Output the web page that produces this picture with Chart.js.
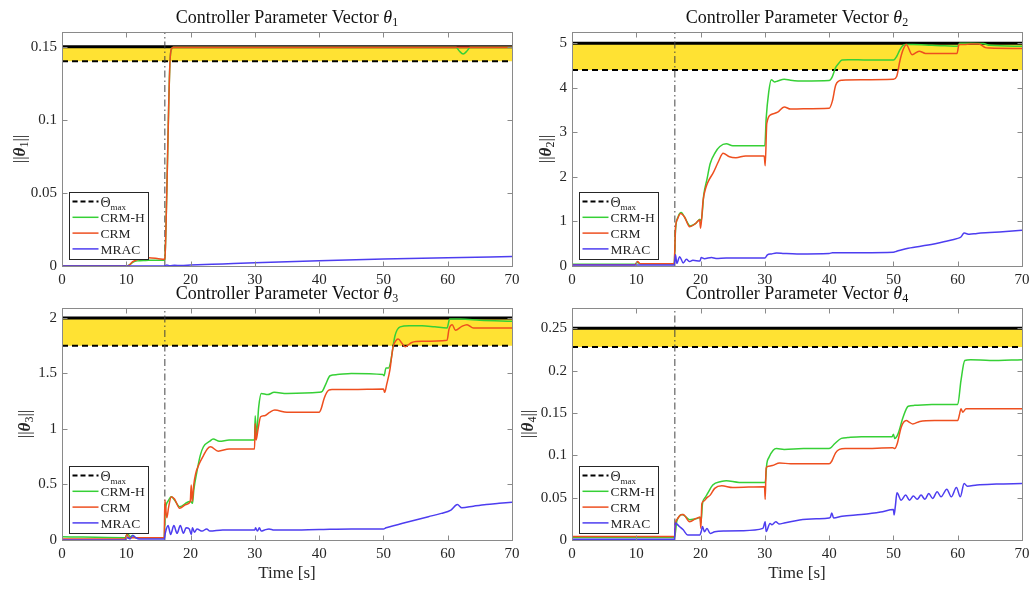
<!DOCTYPE html>
<html><head><meta charset="utf-8">
<script src="https://cdn.jsdelivr.net/npm/chart.js@4.4.1/dist/chart.umd.min.js"></script>
<style>
html,body{margin:0;padding:0;background:#fff;}
#wrap{position:relative;width:1035px;height:589px;overflow:hidden;background:#fff;}
canvas{position:absolute;left:0;top:0;}
</style></head><body><div id="wrap">
<canvas id="c1" width="1035" height="589"></canvas>
<canvas id="c2" width="1035" height="589"></canvas>
<canvas id="c3" width="1035" height="589"></canvas>
<canvas id="c4" width="1035" height="589"></canvas>
</div>
<script>
// ---------- data ----------
const xTicks = [0,10,20,30,40,50,60,70];
const switchTime = 16;
const thetaMax = [0.15, 5, 2, 0.25];
const thetaLow = [0.14, 4.4, 1.75, 0.228];
const yMax = [0.16, 5.25, 2.09, 0.274];
const yTicks1 = [0,0.05,0.1,0.15], yLabels1 = ['0','0.05','0.1','0.15'];
const yTicks2 = [0,1,2,3,4,5], yLabels2 = ['0','1','2','3','4','5'];
const yTicks3 = [0,0.5,1,1.5,2], yLabels3 = ['0','0.5','1','1.5','2'];
const yTicks4 = [0,0.05,0.1,0.15,0.2,0.25], yLabels4 = ['0','0.05','0.1','0.15','0.2','0.25'];

// Panel 1
const p1_t_crmh = [0,10,10.5,11,11.7,13,14.5,15.9,16.0,16.3,16.6,16.8,17,17.3,30,50,61.3,61.8,62.4,63,63.5,70];
const p1_crmh   = [0,0,0.0008,0.0025,0.0035,0.0038,0.004,0.004,0.005,0.05,0.11,0.14,0.148,0.1495,0.1495,0.1495,0.1495,0.147,0.145,0.147,0.1495,0.1495];
const p1_t_crm  = [0,10,10.4,11,12,13.5,15,15.9,16.0,16.3,16.6,16.8,17,17.3,70];
const p1_crm    = [0,0,0.0005,0.003,0.0048,0.0056,0.005,0.0046,0.005,0.05,0.11,0.14,0.148,0.1495,0.1495];
const p1_t_mrac = [0,15.9,16.3,16.8,17.5,18.5,20,25,30,40,50,60,70];
const p1_mrac   = [0,0,0.0006,0.0002,0.0005,0.0003,0.0006,0.0014,0.0022,0.0036,0.0048,0.0056,0.0065];

// Panel 2
const p2_t_crmh = [0,9.8,10.2,10.6,11, 15.9,16.1,16.5,17,17.5, 18.4,19.2,19.9,20.1,20.5, 21,21.5,22.3,23,24, 25,26,30,30.2,30.6, 31,31.5,32,33,34, 36,40,40.5,41,41.5, 42,43,46,50,50.5, 51,51.5,52,53,55, 56,58,60,60.3,61, 62,64,65,70];
const p2_crmh   = [0.04,0.04,0.08,0.05,0.05, 0.05,0.8,1.1,1.2,1.1, 0.9,0.95,1.05,1.0,1.6, 1.95,2.3,2.55,2.68,2.74, 2.7,2.7,2.7,3.3,3.9, 4.18,4.13,4.15,4.19,4.17, 4.15,4.16,4.25,4.45,4.55, 4.62,4.63,4.62,4.62,4.7, 4.85,4.95,4.97,4.97,4.96, 4.95,4.94,4.93,5.0,5.0, 5.0,4.99,4.95,4.93];
const p2_t_crm  = [0,9.8,10.2,10.6,11, 15.9,16.1,16.4,16.9,17.5, 18.3,19.2,19.85,20.0,20.4, 20.8,21.2,22,22.8,23.5, 24.5,25.5,27,29.9,30.05, 30.3,31,32,33,34, 36,40,40.5,41,41.5, 42,45,50,50.5,51, 51.5,52,52.9,54,55, 56,58,59.9,60.2,61, 62,63.3,64.3,65,70];
const p2_crm    = [0.03,0.03,0.1,0.05,0.05, 0.05,0.85,1.05,1.18,1.1, 0.88,0.95,1.03,0.85,1.48, 1.75,1.9,2.1,2.35,2.53, 2.45,2.43,2.47,2.47,2.25, 3.2,3.4,3.45,3.57,3.52, 3.53,3.54,3.7,4.05,4.15, 4.17,4.18,4.19,4.25,4.6, 4.85,4.97,4.74,4.82,4.77, 4.77,4.77,4.77,4.97,4.97, 4.98,4.98,4.9,4.89,4.88];
const p2_t_mrac = [0,15.9,16.1,16.3,16.75, 17.3,17.8,18.3,18.8,19.9, 20.1,20.6,21.7,22.4,24, 30,30.4,31,31.8,33, 35,40,40.5,45,50, 50.5,52.3,55.4,58,60, 60.5,61,61.8,63,65, 68,70];
const p2_mrac   = [0.02,0.02,0.25,0.06,0.21, 0.07,0.15,0.1,0.13,0.11, 0.19,0.165,0.19,0.17,0.18, 0.18,0.25,0.27,0.29,0.28, 0.27,0.28,0.3,0.3,0.31, 0.33,0.4,0.47,0.55,0.62, 0.65,0.74,0.71,0.73,0.75, 0.78,0.8];

// Panel 3
const p3_t_crmh = [0,9.8,10.2,10.6,11, 11.5,15.9,16.05,16.5,17, 17.5,18.3,19.5,20,20.3, 20.5,21,21.5,22,23, 23.5,24.5,26,29.95,30.05, 30.25,30.6,31,32,33, 35,40,40.5,41,41.7, 42.8,45,49.9,50.1,50.4, 50.8,51.1,51.8,52.6,54, 56,58,59.9,60.3,60.6, 62,65,70];
const p3_crmh   = [0.03,0.02,0.06,0.03,0.04, 0.02,0.02,0.25,0.35,0.39, 0.36,0.3,0.34,0.35,0.33, 0.45,0.62,0.76,0.84,0.89, 0.91,0.89,0.9,0.9,1.12, 0.95,1.2,1.32,1.31,1.33, 1.32,1.33,1.34,1.4,1.48, 1.49,1.5,1.49,1.48,1.55, 1.55,1.6,1.84,1.92,1.93, 1.93,1.92,1.91,1.99,1.99, 1.99,1.98,1.97];
const p3_t_crm  = [0,9.8,10.1,10.4,11, 15.9,16.0,16.3,16.6,17, 17.5,18.3,19.3,19.95,20.1, 20.25,20.5,20.8,21.3,22, 22.6,23.1,24.3,26,29.95, 30.05,30.2,30.5,30.9,31.5, 32.3,33.1,35,40,40.3, 40.8,41.5,42,45,50, 50.2,50.5,51,51.5,52, 52.3,52.9,53.4,54.4,56, 59.9,60.2,60.7,61.2,62.2, 63,64,70];
const p3_crm    = [0.01,0.01,0.05,0.02,0.02, 0.02,0.36,0.2,0.3,0.39, 0.37,0.285,0.32,0.345,0.495, 0.35,0.5,0.6,0.68,0.76, 0.82,0.84,0.8,0.82,0.82, 1.05,0.9,1.0,1.11,1.12, 1.15,1.17,1.15,1.15,1.18, 1.28,1.35,1.355,1.355,1.36, 1.33,1.4,1.53,1.74,1.8, 1.81,1.77,1.74,1.78,1.79, 1.8,1.9,1.94,1.89,1.925, 1.94,1.91,1.91];
const p3_t_mrac = [0,9.8,10.2,10.6,11, 11.5,12,15.9,16.1,16.5, 16.9,17.4,17.9,18.4,18.9, 19.3,19.8,20.1,20.3,20.6, 21,21.8,22.5,23,25, 30,30.1,30.4,30.7,31, 31.5,32.2,33,35,40, 45,50,50.4,51,53, 55,57,59,60.5,61.5, 62.2,64,66,68,70];
const p3_mrac   = [0,0,0.02,0.01,0.04, 0.02,0.01,0.01,0.07,0.13, 0.05,0.13,0.06,0.13,0.06, 0.11,0.1,0.05,0.11,0.07, 0.1,0.08,0.1,0.08,0.09, 0.09,0.11,0.08,0.11,0.08, 0.09,0.1,0.09,0.09,0.095, 0.1,0.1,0.11,0.12,0.15, 0.18,0.21,0.24,0.27,0.32, 0.29,0.305,0.32,0.33,0.34];

// Panel 4
const p4_t_crmh = [0,15.95,16.3,16.7,17.1, 17.6,18.3,19.3,19.95,20.05, 20.3,20.7,21.1,21.9,23.2, 24,26,30,30.1,30.3, 30.6,31.3,31.8,33,36, 40,40.9,41.9,42.9,45, 49.8,50.0,50.2,50.7,51.5, 52.3,53.3,56,60,60.5, 61.1,62,65,70];
const p4_crmh   = [0.003,0.003,0.022,0.028,0.03, 0.028,0.024,0.025,0.027,0.02, 0.043,0.05,0.055,0.065,0.069, 0.07,0.068,0.068,0.07,0.09, 0.097,0.106,0.108,0.107,0.108, 0.108,0.114,0.12,0.121,0.122, 0.122,0.125,0.12,0.125,0.145, 0.158,0.159,0.16,0.16,0.188, 0.212,0.213,0.212,0.213];
const p4_t_crm  = [0,15.95,16.1,16.4,16.8, 17.3,18.3,19.3,19.9,20.05, 20.2,20.5,21,21.5,22.2, 23.3,25,29.95,30.05,30.2, 30.6,31.2,32.3,34,40, 40.4,41,41.6,42.5,45, 49.9,50.2,50.6,51.2,52, 52.5,53,54.1,56.4,60, 60.3,60.5,60.8,61.3,63, 70];
const p4_crm    = [0.004,0.004,0.02,0.025,0.029, 0.03,0.0216,0.0255,0.027,0.0138, 0.043,0.046,0.05,0.053,0.061, 0.064,0.062,0.063,0.048,0.085, 0.087,0.088,0.091,0.09,0.09, 0.093,0.103,0.107,0.108,0.108, 0.109,0.108,0.114,0.133,0.141, 0.139,0.137,0.14,0.141,0.141, 0.149,0.155,0.151,0.155,0.155, 0.155];
const p4_t_mrac = [0,15.95,16.05,16.7,17.3, 18,19.9,20.1,20.3,20.6, 21,21.5,22.2,23.9,26.5, 29.7,30.05,30.2,30.8,31.1, 31.7,32.2,33,35.4,38, 40,40.2,40.4,40.7,42, 45,48,50,50.1,50.3, 50.55,51.2,51.9,52.5,53.1, 53.7,54.3,54.9,55.5,56.1, 56.8,57.4,58.3,59,59.8, 60.4,61,61.5,63,66, 70];
const p4_mrac   = [0.001,0.001,0.02,0.016,0.012, 0.006,0.006,0.01,0.016,0.0098, 0.0137,0.0077,0.0098,0.0106,0.011, 0.0137,0.0216,0.01,0.0196,0.018, 0.0216,0.019,0.02,0.0236,0.025, 0.026,0.027,0.032,0.026,0.028, 0.03,0.033,0.036,0.0295,0.04, 0.0557,0.047,0.053,0.047,0.052, 0.048,0.053,0.048,0.055,0.049, 0.057,0.051,0.06,0.051,0.062, 0.051,0.0667,0.0635,0.065,0.066, 0.0667];

// ---------- style ----------
const FONT = '"Liberation Serif","Times New Roman",serif';
const COL = {crmh:'#36d036', crm:'#ee4f1f', mrac:'#4d3df0', yellow:'#ffe233', box:'#8a8a8a', text:'#262626'};

const panels = [
  {id:'c1', n:'1', area:{l:62,r:512,t:32,b:266}, yt:yTicks1, yl:yLabels1, ylabX:19.5, xlabel:false,
   s:[[p1_t_mrac,p1_mrac],[p1_t_crm,p1_crm],[p1_t_crmh,p1_crmh]]},
  {id:'c2', n:'2', area:{l:572,r:1022,t:32,b:266}, yt:yTicks2, yl:yLabels2, ylabX:546, xlabel:false,
   s:[[p2_t_mrac,p2_mrac],[p2_t_crm,p2_crm],[p2_t_crmh,p2_crmh]]},
  {id:'c3', n:'3', area:{l:62,r:512,t:308,b:540}, yt:yTicks3, yl:yLabels3, ylabX:25, xlabel:true,
   s:[[p3_t_mrac,p3_mrac],[p3_t_crm,p3_crm],[p3_t_crmh,p3_crmh]]},
  {id:'c4', n:'4', area:{l:572,r:1022,t:308,b:540}, yt:yTicks4, yl:yLabels4, ylabX:528, xlabel:true,
   s:[[p4_t_mrac,p4_mrac],[p4_t_crm,p4_crm],[p4_t_crmh,p4_crmh]]}
];

function drawRich(ctx, parts, x, y, align) {
  let w = 0;
  parts.forEach(p => { ctx.font = p.f; p.w = ctx.measureText(p.t).width; w += p.w; });
  let cx = align === 'center' ? x - w/2 : (align === 'right' ? x - w : x);
  ctx.textAlign = 'left'; ctx.textBaseline = 'alphabetic';
  parts.forEach(p => { ctx.font = p.f; ctx.fillText(p.t, cx, y + (p.dy||0)); cx += p.w; });
}

const matlabPlugin = {
  id: 'matlab',
  afterDraw(chart) {
    const P = chart.options.plugins.matlab;
    const ctx = chart.ctx, a = chart.chartArea, xs = chart.scales.x, ys = chart.scales.y;
    ctx.save();
    ctx.strokeStyle = COL.box; ctx.lineWidth = 1; ctx.setLineDash([]);
    const L = Math.round(a.left)+0.5, R = Math.round(a.right)+0.5, T = Math.round(a.top)+0.5, B = Math.round(a.bottom)+0.5;
    ctx.strokeRect(L, T, R-L, B-T);
    ctx.beginPath();
    xs.ticks.forEach(t => { const x = Math.round(xs.getPixelForValue(t.value))+0.5;
      ctx.moveTo(x,B); ctx.lineTo(x,B-5); ctx.moveTo(x,T); ctx.lineTo(x,T+5); });
    ys.ticks.forEach(t => { const y = Math.round(ys.getPixelForValue(t.value))+0.5;
      ctx.moveTo(L,y); ctx.lineTo(L+5,y); ctx.moveTo(R,y); ctx.lineTo(R-5,y); });
    ctx.stroke();
    // title
    ctx.fillStyle = '#111';
    drawRich(ctx, [
      {t:'Controller Parameter Vector ', f:'18px '+FONT},
      {t:'\u03B8', f:'italic 18px '+FONT},
      {t:P.n, f:'12px '+FONT, dy:3}], (a.left+a.right)/2, a.top-9, 'center');
    // y label
    ctx.save();
    ctx.translate(P.ylabX, (a.top+a.bottom)/2);
    ctx.rotate(-Math.PI/2);
    ctx.fillStyle = COL.text;
    drawRich(ctx, [
      {t:'||', f:'17px '+FONT},
      {t:'\u03B8', f:'italic bold 17px '+FONT},
      {t:P.n, f:'12px '+FONT, dy:3},
      {t:'||', f:'17px '+FONT}], 0, 5, 'center');
    ctx.restore();
    if (P.xlabel) {
      ctx.fillStyle = COL.text;
      drawRich(ctx, [{t:'Time [s]', f:'17px '+FONT}], (a.left+a.right)/2, a.bottom+38, 'center');
    }
    // legend
    const lw = 79, lh = 67, lx = Math.round(a.left)+7.5, ly = Math.round(a.bottom)-7-lh+0.5;
    ctx.fillStyle = '#fff'; ctx.fillRect(lx, ly, lw, lh);
    ctx.strokeStyle = '#262626'; ctx.lineWidth = 1; ctx.strokeRect(lx, ly, lw, lh);
    const rows = [
      {c:'#000', w:2, d:[5,3], lab:[{t:'\u0398', f:'14px '+FONT},{t:'max', f:'9px '+FONT, dy:3}]},
      {c:COL.crmh, w:1.5, d:[], lab:[{t:'CRM-H', f:'13.5px '+FONT}]},
      {c:COL.crm, w:1.5, d:[], lab:[{t:'CRM', f:'13.5px '+FONT}]},
      {c:COL.mrac, w:1.5, d:[], lab:[{t:'MRAC', f:'13.5px '+FONT}]}];
    rows.forEach((r, i) => {
      const y = ly + 9 + i*15.8;
      ctx.beginPath(); ctx.strokeStyle = r.c; ctx.lineWidth = r.w; ctx.setLineDash(r.d);
      ctx.moveTo(lx+3, y); ctx.lineTo(lx+29, y); ctx.stroke();
      ctx.setLineDash([]);
      ctx.fillStyle = COL.text;
      drawRich(ctx, r.lab, lx+31, y+5, 'left');
    });
    ctx.restore();
  }
};

function pts(t, v) { return t.map((x, i) => ({x: x, y: v[i]})); }

panels.forEach((P, k) => {
  const a = P.area;
  const names = ['MRAC','CRM','CRM-H'];
  const cols = [COL.mrac, COL.crm, COL.crmh];
  const ds = P.s.map((s, i) => ({
    label: names[i], data: pts(s[0], s[1]), borderColor: cols[i], borderWidth: 1.5,
    pointRadius: 0, fill: false, cubicInterpolationMode: 'monotone'
  }));
  ds.push({label:'switch', data:[{x:switchTime,y:0},{x:switchTime,y:yMax[k]}], borderColor:'#444',
    borderWidth:1, borderDash:[7,3,1.5,3], pointRadius:0, fill:false});
  ds.push({label:'low', data:[{x:0,y:thetaLow[k]},{x:70,y:thetaLow[k]}], borderColor:'#000',
    borderWidth:2, borderDash:[6,4], pointRadius:0, fill:false});
  ds.push({label:'max', data:[{x:0,y:thetaMax[k]},{x:70,y:thetaMax[k]}], borderColor:'#000',
    borderWidth:3, pointRadius:0, fill:{value: thetaLow[k]}, backgroundColor: COL.yellow});

  new Chart(document.getElementById(P.id), {
    type: 'line',
    data: {datasets: ds},
    options: {
      responsive: false, animation: false, devicePixelRatio: 1,
      layout: {padding: {left: a.l-40, right: 1035-a.r, top: a.t, bottom: 589-a.b-24}},
      plugins: {legend:{display:false}, tooltip:{enabled:false}, title:{display:false},
        matlab: {n:P.n, ylabX:P.ylabX, xlabel:P.xlabel}},
      scales: {
        x: {type:'linear', min:0, max:70,
          afterBuildTicks: s => { s.ticks = xTicks.map(v => ({value:v})); },
          afterFit: s => { s.height = 24; },
          ticks: {font:{family:FONT, size:15}, color:COL.text, padding:5, maxRotation:0, autoSkip:false,
            callback: (v) => String(v)},
          grid: {display:false, drawTicks:false}, border: {display:false}},
        y: {type:'linear', min:0, max:yMax[k],
          afterBuildTicks: s => { s.ticks = P.yt.map(v => ({value:v})); },
          afterFit: s => { s.width = 40; },
          ticks: {font:{family:FONT, size:15}, color:COL.text, padding:5, autoSkip:false,
            callback: (v, i) => P.yl[i]},
          grid: {display:false, drawTicks:false}, border: {display:false}}
      }
    },
    plugins: [matlabPlugin]
  });
});
</script>
</body></html>
